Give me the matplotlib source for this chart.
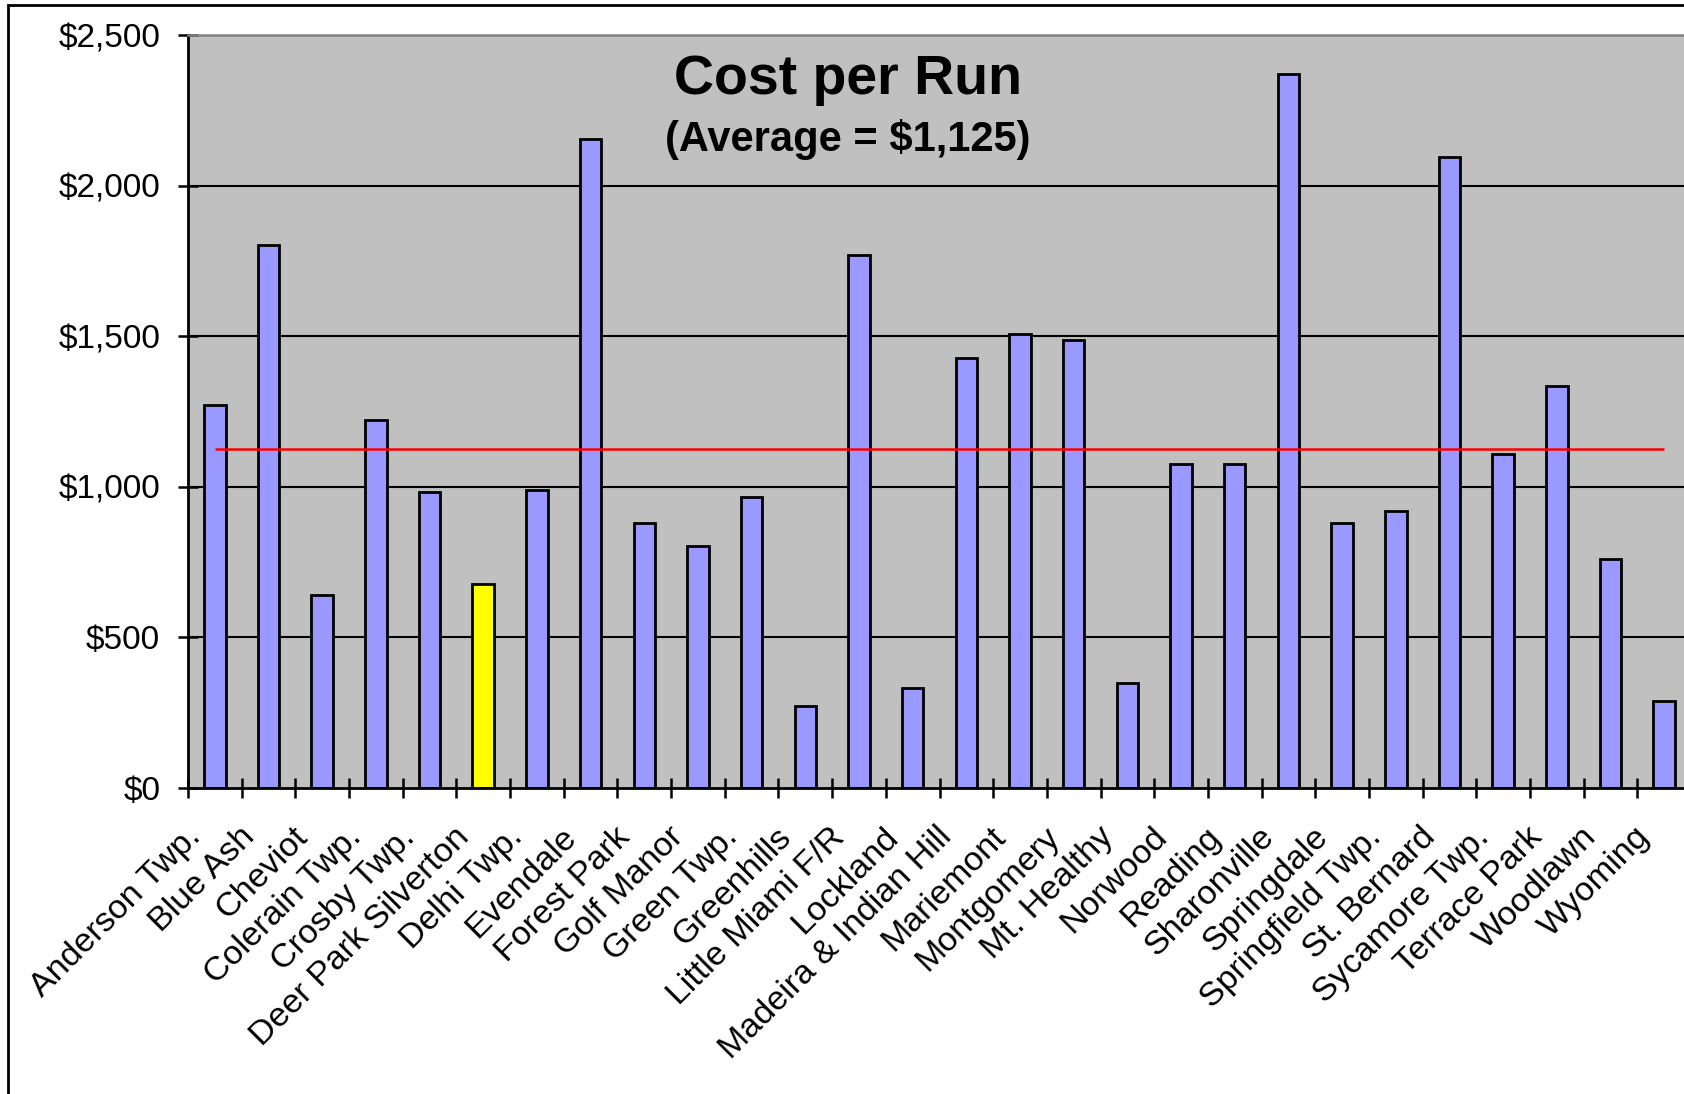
import numpy as np
import matplotlib.pyplot as plt
from matplotlib.patches import Rectangle
from matplotlib.ticker import FuncFormatter
from matplotlib.transforms import ScaledTranslation

plt.rcParams['font.family'] = ['Liberation Sans', 'DejaVu Sans']

# Dados: custo por corrida de cada comunidade
comunidades = ["Anderson Twp.", "Blue Ash", "Cheviot", "Colerain Twp.", "Crosby Twp.",
               "Deer Park Silverton", "Delhi Twp.", "Evendale", "Forest Park", "Golf Manor",
               "Green Twp.", "Greenhills", "Little Miami F/R", "Lockland",
               "Madeira & Indian Hill", "Mariemont", "Montgomery", "Mt. Healthy", "Norwood",
               "Reading", "Sharonville", "Springdale", "Springfield Twp.", "St. Bernard",
               "Sycamore Twp.", "Terrace Park", "Woodlawn", "Wyoming"]
custo = [1273, 1803, 640, 1222, 983, 676, 991, 2154, 879, 804,
         965, 273, 1769, 333, 1428, 1506, 1487, 350, 1076, 1076,
         2369, 880, 921, 2094, 1110, 1334, 761, 290]
destaque = "Deer Park Silverton"
media = 1125
y_ticks = [0, 500, 1000, 1500, 2000, 2500]

cor_barra = "#9999FF"
cor_destaque = "#FFFF00"

fig = plt.figure(figsize=(16.84, 10.94), dpi=100)

# moldura externa do grafico
fig.patches.append(Rectangle((8 / 1684, -0.2), 1.5, 1.2 - 5 / 1094, transform=fig.transFigure,
                             fill=False, edgecolor="black", linewidth=2))

ax = fig.add_axes([188 / 1684, 1 - 788 / 1094, (1691 - 188) / 1684, (788 - 35) / 1094])
ax.set_facecolor("#C0C0C0")

x = np.arange(len(comunidades))
cores = [cor_destaque if c == destaque else cor_barra for c in comunidades]

# Linhas de grade
for v in y_ticks[1:-1]:
    ax.axhline(v, color="black", linewidth=1.5, zorder=1)

ax.bar(x, custo, width=0.4, color=cores, edgecolor="black", linewidth=2, zorder=2)
ax.hlines(media, x[0], x[-1], color="#FF0000", linewidth=1.8, zorder=3)

ax.set_xlim(-0.5, len(comunidades) - 0.5)
ax.set_ylim(y_ticks[0], y_ticks[-1])

# Eixo Y
ax.set_yticks(y_ticks)
ax.yaxis.set_major_formatter(FuncFormatter(lambda v, p: "${:,.0f}".format(v)))
ax.tick_params(axis="y", direction="inout", length=14, width=1.8, labelsize=24, pad=13)

# Eixo X: marcas entre as categorias, nomes no centro
ax.set_xticks(np.arange(-0.5, len(comunidades), 1.0))
ax.set_xticklabels([])
ax.tick_params(axis="x", which="major", direction="inout", length=14, width=1.8)
ax.set_xticks(x, minor=True)
rotulos = ax.set_xticklabels(comunidades, minor=True, rotation=45, ha="right", va="center",
                             rotation_mode="anchor", fontsize=24.5)
ax.tick_params(axis="x", which="minor", length=0, pad=32)
desloc = ScaledTranslation(-19 / 100, 0, fig.dpi_scale_trans)
for r in rotulos:
    r.set_transform(r.get_transform() + desloc)

for s in ["left", "bottom"]:
    ax.spines[s].set_linewidth(2)
    ax.spines[s].set_color("black")
ax.spines["top"].set_color("#808080")
ax.spines["top"].set_linewidth(1.8)
ax.spines["right"].set_visible(False)

# Titulo
fig.text(848 / 1684, 1 - 80 / 1094, "Cost per Run", ha="center", va="center",
         fontsize=40, fontweight="bold")
fig.text(848 / 1684, 1 - 139 / 1094, "(Average = ${:,})".format(media), ha="center", va="center",
         fontsize=30, fontweight="bold")

fig.savefig("out.png", dpi=100)
